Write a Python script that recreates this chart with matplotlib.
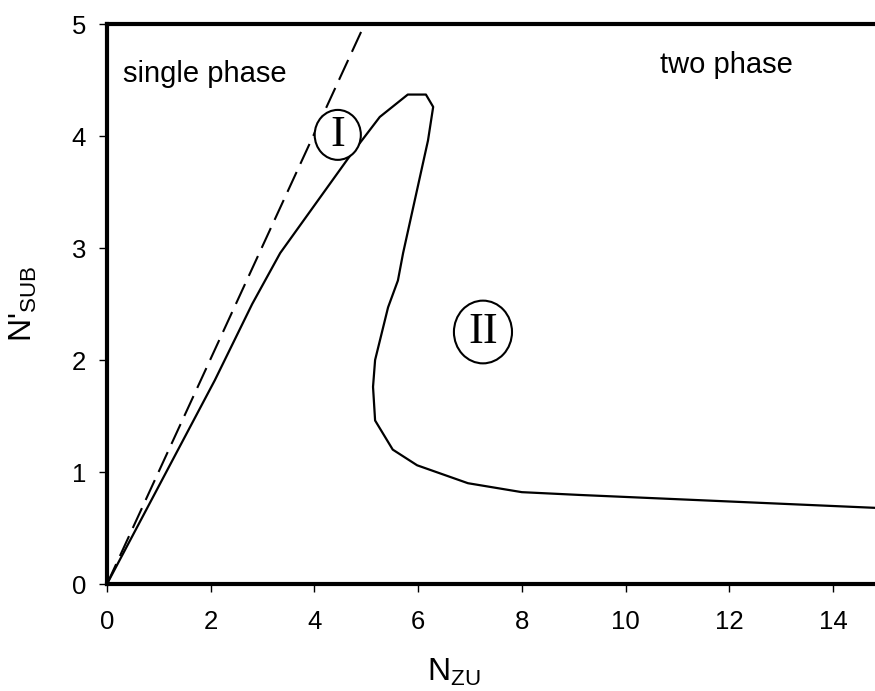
import matplotlib.pyplot as plt
from matplotlib.patches import Ellipse

# phase boundary (N_ZU, N'_SUB)
boundary_x = [0.0, 2.08, 2.80, 3.34, 4.65, 5.26, 5.80, 6.15, 6.29, 6.19, 5.71, 5.61,
              5.42, 5.17, 5.13, 5.17, 5.51, 5.98, 6.96, 8.00, 9.12, 14.81]
boundary_y = [0.0, 1.82, 2.50, 2.955, 3.80, 4.17, 4.37, 4.37, 4.26, 3.96, 2.955, 2.71,
              2.47, 2.00, 1.76, 1.46, 1.20, 1.06, 0.90, 0.82, 0.795, 0.68]

# dashed limit line
limit_x = [0.0, 4.97]
limit_y = [0.0, 5.0]

x_ticks = [0, 2, 4, 6, 8, 10, 12, 14]
y_ticks = [0, 1, 2, 3, 4, 5]

plt.rcParams['font.family'] = ['Liberation Sans', 'DejaVu Sans']
plt.rcParams['mathtext.fontset'] = 'custom'
plt.rcParams['mathtext.rm'] = 'Liberation Sans'

fig = plt.figure(figsize=(8.75, 6.91), dpi=100)
ax = fig.add_axes([107 / 875, 1 - 584 / 691, 1 - 107 / 875, (584 - 24) / 691])

ax.plot(boundary_x, boundary_y, color='black', lw=1.6, zorder=3)
ax.plot(limit_x, limit_y, color='black', lw=1.5, linestyle=(0, (10.5, 4.3)), zorder=3)

ax.set_xlim(0, 14.81)
ax.set_ylim(0, 5)
ax.set_xticks(x_ticks)
ax.set_yticks(y_ticks)

for side in ['left', 'bottom', 'top']:
    ax.spines[side].set_linewidth(3)
ax.spines['right'].set_visible(False)
ax.tick_params(axis='both', direction='out', length=6, width=1, labelsize=18.5)
ax.tick_params(axis='x', pad=13)
ax.tick_params(axis='y', pad=9)

ax.set_xlabel(r"N$_\mathregular{ZU}$", fontsize=23)
ax.xaxis.set_label_coords(0.452, -0.13)
ax.set_ylabel(r"N'$_\mathregular{SUB}$", fontsize=23)
ax.yaxis.set_label_coords(-0.088, 0.5)

ax.text(0.3, 4.55, 'single phase', fontsize=21, va='center', ha='left')
ax.text(11.95, 4.63, 'two phase', fontsize=21, va='center', ha='center')

# region markers
ax.add_patch(Ellipse((4.45, 4.01), 0.89, 0.446, fc='white', ec='black', lw=1.5, zorder=4))
ax.text(4.45, 4.01, 'I', family='Liberation Serif', fontsize=32, ha='center', va='center', zorder=5)
ax.add_patch(Ellipse((7.25, 2.25), 1.12, 0.56, fc='white', ec='black', lw=1.5, zorder=4))
ax.text(7.25, 2.25, 'II', family='Liberation Serif', fontsize=32, ha='center', va='center', zorder=5)

fig.savefig('out.png', dpi=100)
